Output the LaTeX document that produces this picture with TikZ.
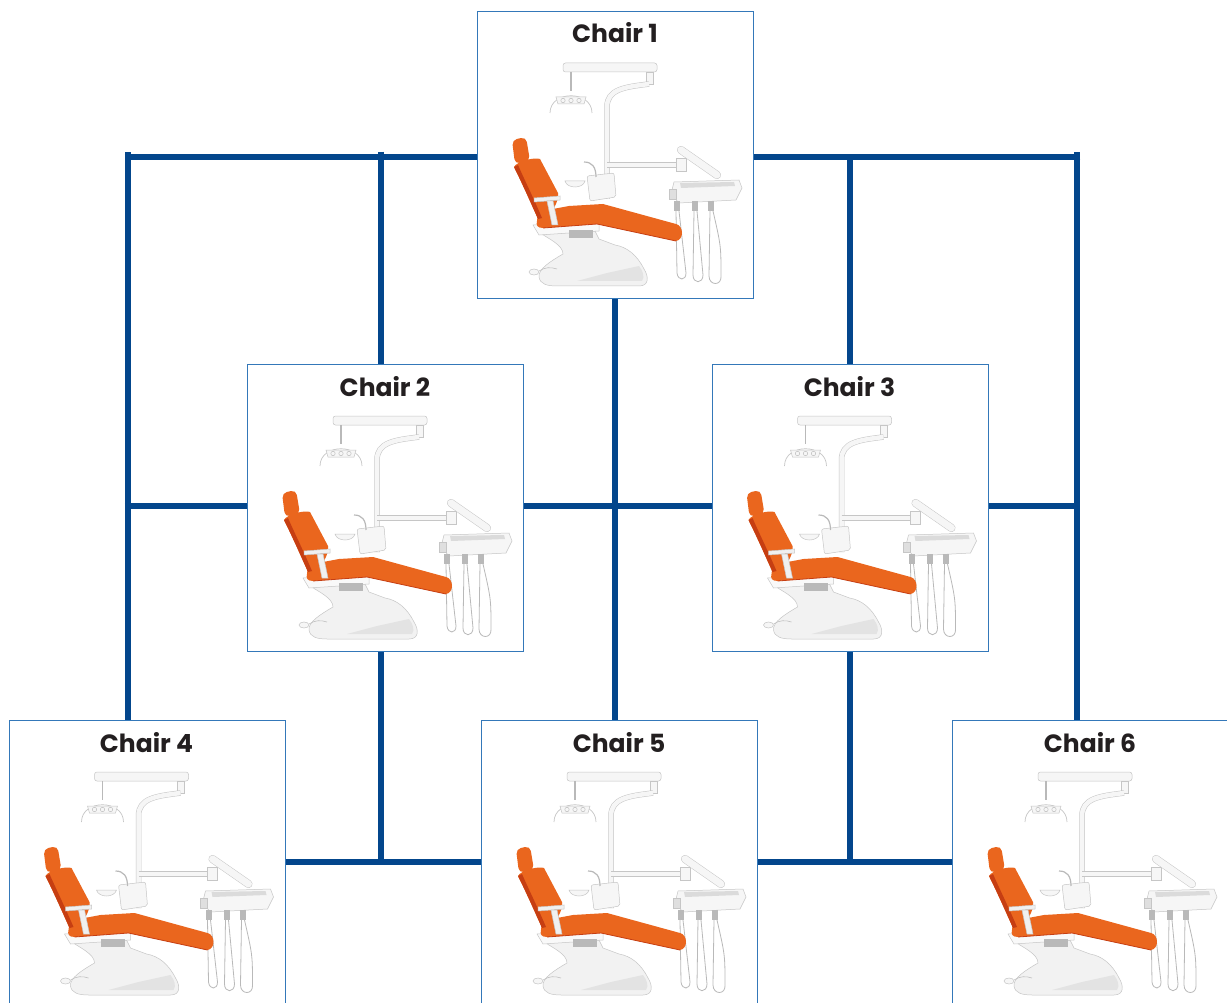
\documentclass[tikz,border=0pt]{standalone}
\usepackage{fontspec}
\newfontfamily\titlefont{Poppins}
\definecolor{netblue}{RGB}{3,70,140}
\definecolor{boxblue}{RGB}{52,120,185}
\definecolor{seatorange}{RGB}{234,102,30}
\definecolor{seatdark}{RGB}{198,62,18}
\definecolor{titlegray}{RGB}{35,31,32}
\tikzset{
  net/.style={draw=netblue, line width=6.5pt},
  chairbox/.style={draw=boxblue, line width=1.2pt, fill=white, minimum width=276pt, minimum height=287pt, inner sep=0pt, anchor=north west},
  chairtitle/.style={font=\titlefont\bfseries\fontsize{25}{30}\selectfont, text=titlegray, anchor=base, inner sep=0pt},
  part/.style={draw=gray!45, line width=0.5pt, fill=gray!7},
  tube/.style={draw=gray!45, line width=0.5pt, double=gray!7, double distance=4.5pt},
  hose/.style={draw=gray!55, line width=0.8pt},
}
\newcommand\chairart{%
  % ceiling arm
  \draw[part, rounded corners=2.5pt] (86,52) rectangle (180,61);
  \draw[part] (169,61) rectangle (176,73);
  % pole
  \draw[tube] (172,73) .. controls (148,76) and (130,78) .. (130,96) -- (130,188);
  % lamp
  \draw[gray!55, line width=1.2pt] (94,61) -- (94,80);
  \draw[gray!45, line width=0.7pt] (73,102) .. controls (73,79) and (115,79) .. (115,102);
  \draw[part] (79,86) -- (109,86) -- (107,93) -- (81,93) -- cycle;
  \foreach \bx in {86,94,102} {\draw[gray!50, line width=0.5pt] (\bx,89.5) circle (2.2);}
  % arm to tray
  \draw[tube] (130,154) -- (204,154);
  \draw[part] (199,147) rectangle (209,160);
  \draw[tube, double distance=7pt, line cap=round] (204,139) -- (240,164);
  % tray
  \draw[part] (197,171) -- (262,169) -- (265,177) -- (259,189) -- (202,192) -- (194,183) -- cycle;
  \fill[gray!28] (203,172) -- (257,171) -- (258,175) -- (204,177) -- cycle;
  \draw[part, fill=gray!25] (192,178) rectangle (199,188);
  \foreach \hx in {197,215,231} {\fill[gray!55] (\hx,190) rectangle ++(6,10);}
  % hoses
  \draw[hose] (199,200) -- (200,262) .. controls (201,270) and (209,270) .. (209,262) -- (202,200);
  \draw[hose] (217,200) -- (216,264) .. controls (216,273) and (226,273) .. (226,264) -- (220,200);
  \draw[hose] (233,200) -- (232,265) .. controls (232,275) and (245,275) .. (244,265) .. controls (244,235) .. (236,200);
  % cuspidor unit
  \draw[part, rounded corners=2pt] (110,165) -- (137,162) -- (139,186) -- (113,190) -- cycle;
  \draw[part] (88,170) -- (108,170) .. controls (106,178) and (90,178) .. (88,170) -- cycle;
  \draw[gray!55, line width=1.2pt] (107,151) .. controls (115,151) and (119,156) .. (119,166);
  % base
  \draw[part, fill=gray!10] (60,220) .. controls (72,228) and (86,234) .. (86,243) .. controls (74,250) and (61,258) .. (62,266) .. controls (63,273) and (70,275) .. (80,275) -- (162,275) .. controls (172,275) and (172,266) .. (167,258) .. controls (160,244) and (150,236) .. (138,234) -- (122,228) -- (118,220) -- cycle;
  \fill[gray!22] (100,270) -- (165,270) .. controls (168,266) and (166,260) .. (162,255) -- (130,262) -- cycle;
  \draw[part, fill=gray!5] (56,214) -- (122,211) -- (122,220) -- (62,224) -- cycle;
  \fill[gray!55] (92,219) rectangle (116,227);
  % seat
  \fill[seatorange] (60,210) .. controls (60,202) and (68,198) .. (76,198) -- (92,195) -- (126,193) -- (199,213) .. controls (207,215) and (207,229) .. (199,230) -- (120,213) -- (66,217) .. controls (60,217) and (59,214) .. (60,210) -- cycle;
  \draw[seatdark, line width=0.8pt] (66,217) -- (120,213) -- (199,230);
  % backrest
  \fill[seatorange] (37,156) .. controls (40,150) and (58,146) .. (63,148) -- (81,182) .. controls (82,190) and (76,200) .. (70,206) -- (61,208) .. controls (53,190) and (45,172) .. (37,156) -- cycle;
  \fill[seatdark] (37,156) .. controls (45,172) and (53,190) .. (61,208) -- (65,207) .. controls (57,188) and (48,170) .. (41,154) -- cycle;
  % headrest
  \fill[seatorange, rounded corners=5pt] (35,129) -- (49,126) -- (53,150) -- (38,153) -- cycle;
  % armrest
  \draw[part, fill=gray!12] (57,187) -- (83,185) -- (83,189) -- (57,191) -- cycle;
  \draw[part, fill=gray!12] (70,190) -- (76,190) -- (81,214) -- (75,214) -- cycle;
  % foot pedal
  \draw[part] (57,261) ellipse (5 and 3);
  \draw[gray!50, line width=0.6pt] (62,260) .. controls (68,256) and (74,256) .. (80,258);
}
\newcommand\chairunit[4]{%
  \node[chairbox] (#1) at (#2,#3) {};
  \begin{scope}[shift={(#2,#3)}]
    \chairart
    \node[chairtitle] (#1t) at (138,32) {#4};
  \end{scope}}
\begin{document}
\begin{tikzpicture}[x=1pt,y=-1pt]
\useasboundingbox (0,0) rectangle (1227,1003);
\chairunit{c1}{477}{11}{Chair 1}
\chairunit{c2}{247}{364}{Chair 2}
\chairunit{c3}{711.5}{364}{Chair 3}
\chairunit{c4}{8.5}{720}{Chair 4}
\chairunit{c5}{481}{720}{Chair 5}
\chairunit{c6}{952}{720}{Chair 6}
\coordinate (TL) at (128,157);
\coordinate (TA) at (381,157);
\coordinate (TB) at (850,157);
\coordinate (TR) at (1077,157);
\coordinate (ML) at (128,506);
\coordinate (MC) at (615,506);
\coordinate (MR) at (1077,506);
\coordinate (BA) at (381,862);
\coordinate (BB) at (850,862);
\draw[net] (TL |- c4.north) -- ([yshift=5.3pt]TL);
\draw[net] ([xshift=-3.25pt]TL) -- (TL -| c1.west);
\draw[net] (TR |- c6.north) -- ([yshift=5.3pt]TR);
\draw[net] ([xshift=3.25pt]TR) -- (TR -| c1.east);
\draw[net] ([yshift=5.3pt]TA) -- (TA |- c2.north);
\draw[net] (TB) -- (TB |- c3.north);
\draw[net] ([xshift=-3.25pt]ML) -- (ML -| c2.west);
\draw[net] (ML -| c2.east) -- (ML -| c3.west);
\draw[net] (MR -| c3.east) -- ([xshift=3.25pt]MR);
\draw[net] (MC |- c1.south) -- (MC |- c5.north);
\draw[net] (BA |- c2.south) -- (BA);
\draw[net] (BA -| c4.east) -- (BA -| c5.west);
\draw[net] (BB |- c3.south) -- (BB);
\draw[net] (BB -| c5.east) -- (BB -| c6.west);
\end{tikzpicture}
\end{document}
